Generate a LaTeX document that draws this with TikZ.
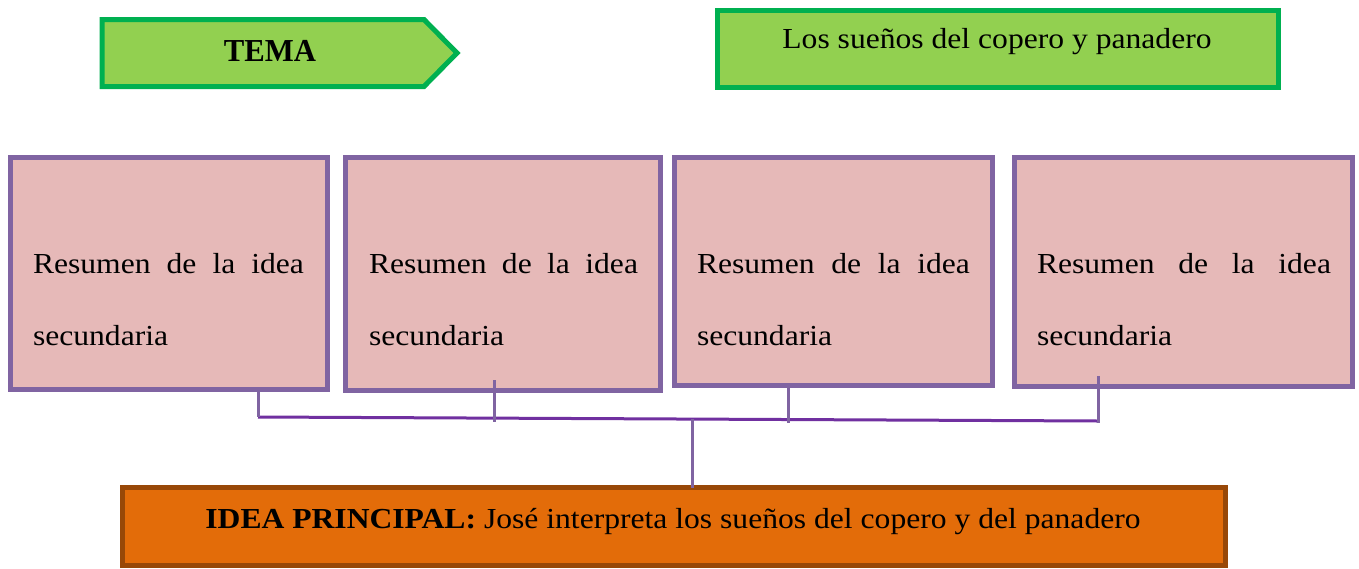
\documentclass[tikz,border=0pt]{standalone}
\usepackage{fontspec}
\setmainfont{Liberation Serif}[FakeStretch=1.09]
\newfontfamily\temafont{Liberation Serif}[FakeStretch=0.96]
\definecolor{gfill}{HTML}{92D050}
\definecolor{gline}{HTML}{00B050}
\definecolor{pfill}{HTML}{E6B9B8}
\definecolor{pline}{HTML}{8064A2}
\definecolor{ofill}{HTML}{E36C09}
\definecolor{oline}{HTML}{984807}
\definecolor{busc}{HTML}{7030A0}
\newcommand\resline[1]{\hbox to #1pt{Resumen\hfill de\hfill la\hfill idea}}
\begin{document}
\begin{tikzpicture}[x=1pt,y=-1pt,
  every node/.style={inner sep=0pt, outer sep=0pt},
  txt/.style={font=\fontsize{29}{33}\selectfont, anchor=base},
  ltxt/.style={font=\fontsize{29}{33}\selectfont, anchor=base west},
  greenbox/.style={draw=gline, fill=gfill, line width=5pt, rectangle},
  pinkbox/.style={draw=pline, fill=pfill, line width=5pt, rectangle},
  orangebox/.style={draw=oline, fill=ofill, line width=5pt, rectangle},
  conn/.style={draw=pline, line width=3pt},
  bus/.style={draw=busc, line width=3pt}]
\useasboundingbox (0,0) rectangle (1359,568);
% TEMA arrow
\path[greenbox, line join=miter] (102,19.5) -- (424,19.5) -- (457,53) -- (424,86.5) -- (102,86.5) -- cycle;
\node[anchor=base, font=\temafont\fontsize{32}{36}\selectfont\bfseries] (tema) at (270,61) {TEMA};
% title box
\node[greenbox, minimum width=561pt, minimum height=77pt] (titbox) at (998,49) {};
\node[txt] (tit) at (997,48) {Los sueños del copero y panadero};
% pink boxes
\node[pinkbox, minimum width=317pt, minimum height=232pt] (b1) at (169,273.5) {};
\node[pinkbox, minimum width=315pt, minimum height=233pt] (b2) at (503,274) {};
\node[pinkbox, minimum width=318pt, minimum height=228pt] (b3) at (833.5,271.5) {};
\node[pinkbox, minimum width=338pt, minimum height=229pt] (b4) at (1183.5,272) {};
\node[ltxt] (t1a) at (33,273) {\resline{271}};
\node[ltxt] (t1b) at (33,345) {secundaria};
\node[ltxt] (t2a) at (369,273) {\resline{269}};
\node[ltxt] (t2b) at (369,345) {secundaria};
\node[ltxt] (t3a) at (697,273) {\resline{273}};
\node[ltxt] (t3b) at (697,345) {secundaria};
\node[ltxt] (t4a) at (1037,273) {\resline{294}};
\node[ltxt] (t4b) at (1037,345) {secundaria};
% main idea
\node[orangebox, minimum width=1103pt, minimum height=78pt] (main) at (674,526.5) {};
\node[txt] (maintxt) at (673,528) {\textbf{IDEA PRINCIPAL:} José interpreta los sueños del copero y del panadero};
% connectors
\coordinate (bl) at (258,417);
\coordinate (br) at (1098,421);
\coordinate (s2) at (494,380);
\coordinate (e2) at (494,422);
\coordinate (s3) at (788,387);
\coordinate (e3) at (788,423);
\coordinate (s4) at (1098,376);
\coordinate (e4) at (1098,423);
\coordinate (jm) at (692,419);
\draw[bus] (bl) -- (br);
\draw[conn] (b1.south -| bl) -- (bl);
\draw[conn] (s2) -- (e2);
\draw[conn] (s3) -- (e3);
\draw[conn] (s4) -- (e4);
\draw[conn] (jm) -- (main.north -| jm);
\end{tikzpicture}
\end{document}
